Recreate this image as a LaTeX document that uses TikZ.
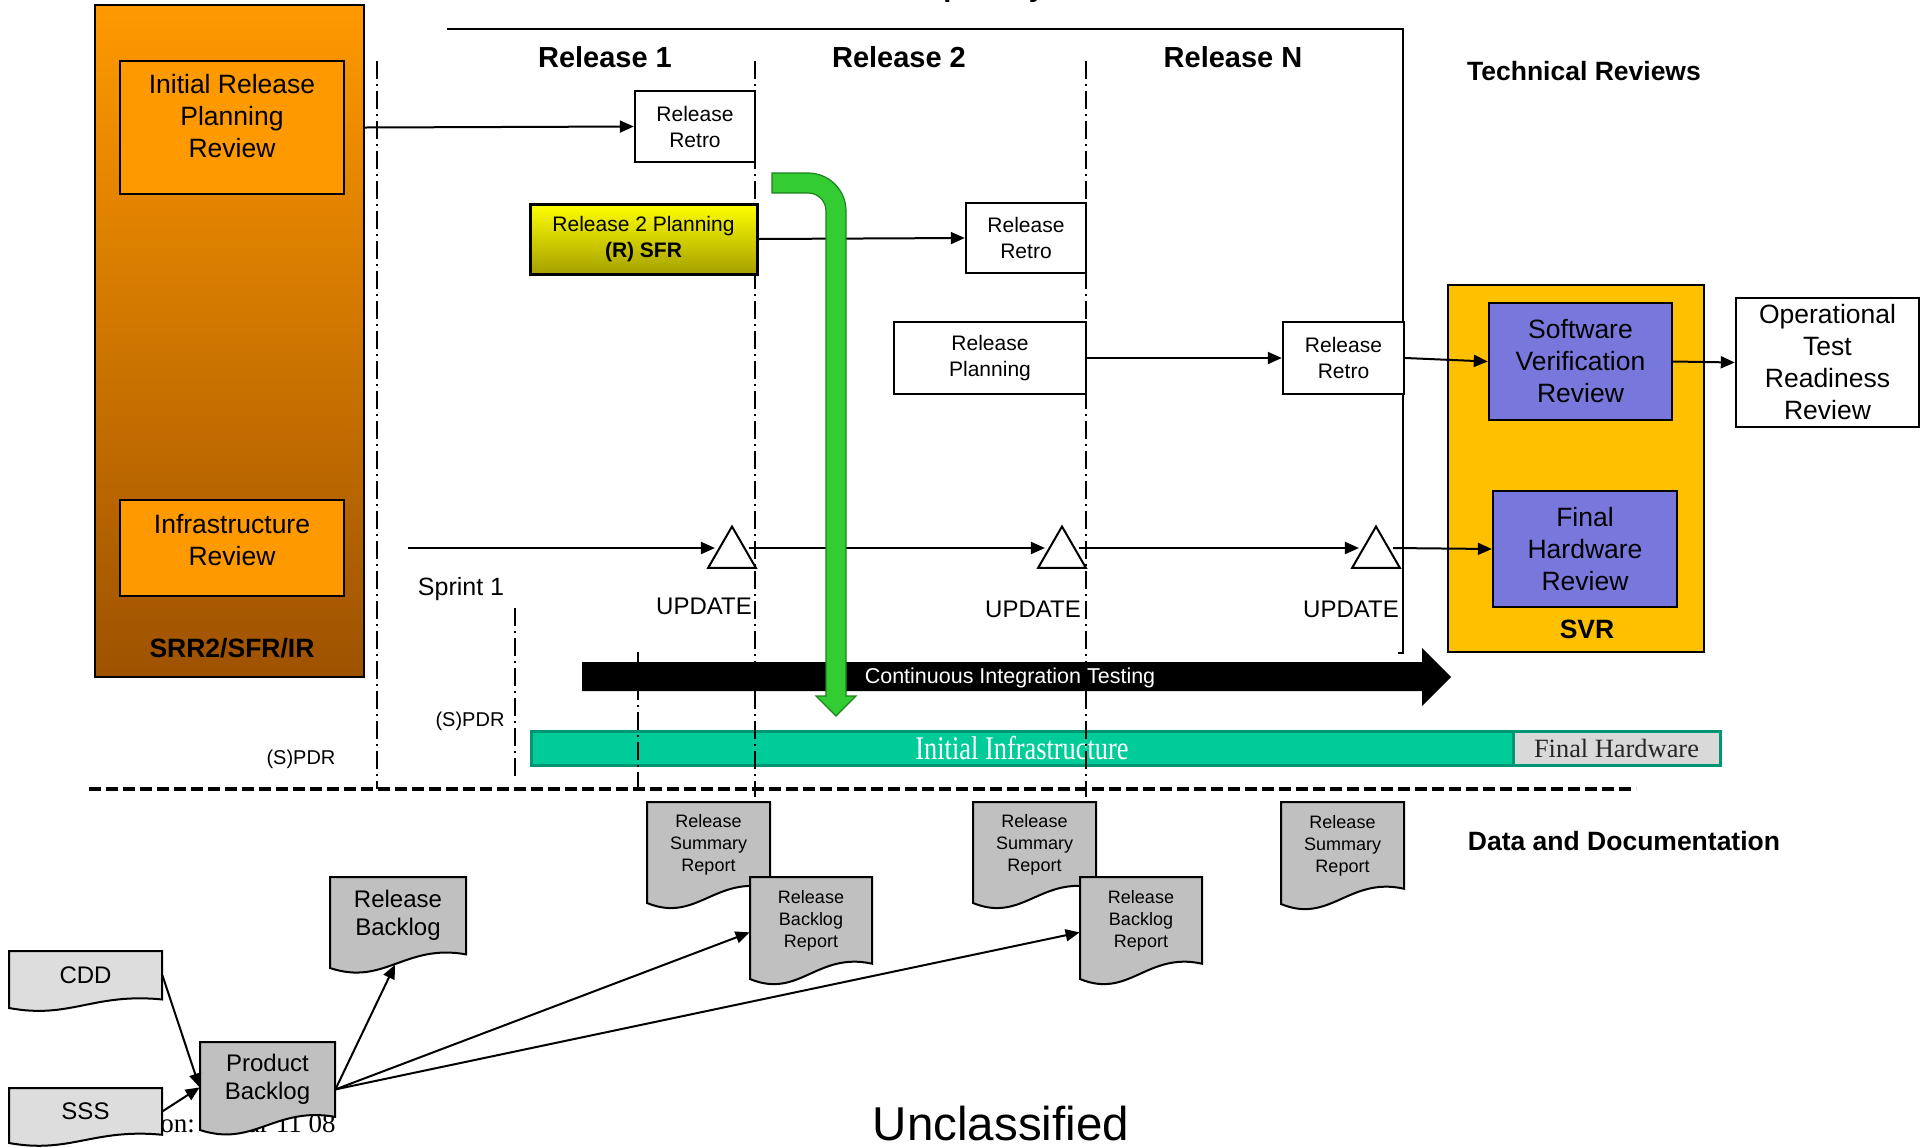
\documentclass[tikz,border=0pt]{standalone}
\usepackage{fontspec}
\setmainfont{Liberation Sans}
\newfontfamily\serifface{Liberation Serif}
\usetikzlibrary{arrows.meta,shapes.geometric,calc}

\definecolor{orangetop}{RGB}{255,153,0}
\definecolor{orangebot}{RGB}{158,82,0}
\definecolor{orangebox}{RGB}{255,153,0}
\definecolor{yellowtop}{RGB}{255,255,0}
\definecolor{yellowbot}{RGB}{165,160,0}
\definecolor{svrgold}{RGB}{255,192,0}
\definecolor{reviewblue}{RGB}{120,120,220}
\definecolor{arrowgreen}{RGB}{51,204,51}
\definecolor{arrowgreenline}{RGB}{30,130,30}
\definecolor{infrateal}{RGB}{0,204,153}
\definecolor{infraedge}{RGB}{0,150,115}
\definecolor{hwgray}{RGB}{217,217,217}
\definecolor{docgray}{RGB}{192,192,192}
\definecolor{srcgray}{RGB}{221,221,221}

\tikzset{
  % node spanning the rectangle (x0,y0)-(x1,y1), given in picture units
  area/.style n args={4}{at={({(#1+#3)/2},{(#2+#4)/2})}, anchor=center,
    minimum width={(#3-#1)*0.5pt}, minimum height={(#4-#2)*0.5pt}},
  box/.style={draw, line width=1.2pt, inner sep=0pt, align=center},
  conn/.style={line width=1pt, -{Triangle[length=7pt,width=6pt]}},
  dashdot/.style={line width=0.8pt, dash pattern=on 9pt off 2.5pt on 1pt off 2.5pt},
  sepline/.style={line width=2pt, dash pattern=on 5.75pt off 2.75pt},
  docedge/.style={draw=black, line width=1pt},
  hdr/.style={font=\fontsize{14.5}{17}\selectfont\bfseries},
  sect/.style={font=\fontsize{13.25}{16}\selectfont\bfseries},
  txtbig/.style={font=\fontsize{13.25}{16}\selectfont},
  txtsmall/.style={font=\fontsize{10.5}{13}\selectfont},
  txtdoc/.style={font=\fontsize{9}{11}\selectfont},
  txtmid/.style={font=\fontsize{12}{14}\selectfont},
  tri/.style={regular polygon, regular polygon sides=3, minimum size=27.5pt,
    draw, fill=white, line width=1pt, inner sep=0pt},
}

% document symbol with a wavy lower edge; the named node covers its upper part
% #1 name, #2 left, #3 top, #4 right, #5 lower-left corner, #6 fill, #7 style, #8 text
\newcommand\docnode[8]{%
  \filldraw[docedge, fill=#6] (#2,#3) -- (#4,#3) -- (#4,{#5-0.15*(#5-#3)})
    .. controls ({#2+0.55*(#4-#2)},{#5-0.27*(#5-#3)}) and ({#2+0.4*(#4-#2)},{#5+0.2*(#5-#3)}) .. (#2,#5) -- cycle;
  \node[inner sep=0pt, align=center, area={#2}{#3}{#4}{#5-0.15*(#5-#3)}, #7] (#1) {#8};
}

\begin{document}
\begin{tikzpicture}[x=0.5pt, y=-0.5pt]
\path[use as bounding box, fill=white] (0,0) rectangle (1929,1147);

% heading above the releases (runs off the top edge)
\node[anchor=base west, inner sep=0pt, hdr] (heading) at (906,-4) {Capability};

% frame around the releases
\draw[line width=1.2pt] (447,29) -- (1403,29) -- (1403,653) -- (1398,653);

% left review block
\node[draw, line width=1pt, inner sep=0pt, top color=orangetop, bottom color=orangebot, area={95}{5}{364}{677}] (srr) {};
\node[box, fill=orangebox, area={120}{61}{344}{194}, txtbig] (irpr)
  {\raisebox{4pt}[\height][\depth]{\begin{tabular}{@{}c@{}}Initial Release\\Planning\\Review\end{tabular}}};
\node[box, fill=orangebox, area={120}{500}{344}{596}, txtbig] (infra)
  {\raisebox{2.5pt}[\height][\depth]{\begin{tabular}{@{}c@{}}Infrastructure\\Review\end{tabular}}};
\node[sect] (srrlabel) at (232,648) {SRR2/SFR/IR};

% release headers
\node[hdr] (rel1) at (605,57) {Release 1};
\node[hdr] (rel2) at (899,57) {Release 2};
\node[hdr] (relN) at (1233,57) {Release N};
\node[sect] (techrev) at (1584,71) {Technical Reviews};

% bars along the bottom of the release area
\node[draw=infraedge, line width=1.5pt, fill=infrateal, inner sep=0pt, area={531}{731}{1513}{765}, text=white] (infrabar)
  {\scalebox{0.8}[1]{\serifface\fontsize{16.5}{18}\selectfont Initial Infrastructure}};
\node[draw=infraedge, line width=1.5pt, fill=hwgray, inner sep=0pt, area={1513}{731}{1720}{765}, text=black!85] (hwbar)
  {\serifface\fontsize{13.2}{15}\selectfont Final Hardware};

\fill[black] (582,662) -- (1422,662) -- (1422,648) -- (1451,677) -- (1422,706) -- (1422,691) -- (582,691) -- cycle;
\node[text=white, font=\fontsize{10.75}{12}\selectfont] (cit) at (1010,678) {Continuous Integration Testing};

% release boundaries
\draw[dashdot] (377,61) -- (377,789);
\draw[dashdot] (755,61) -- (755,797);
\draw[dashdot] (1086,61) -- (1086,797);
\draw[dashdot] (515,608) -- (515,780);
\draw[dashdot] (638,652) -- (638,789);

% planning and retrospective boxes
\node[box, fill=white, area={635}{91}{755}{162}, txtsmall] (rr1) {Release\\Retro};
\node[box, line width=1.5pt, top color=yellowtop, bottom color=yellowbot, area={530}{204}{757}{274}, txtsmall] (r2p) {Release 2 Planning\\\textbf{(R) SFR}};
\node[box, fill=white, area={966}{203}{1086}{273}, txtsmall] (rr2) {Release\\Retro};
\node[box, fill=white, area={894}{322}{1086}{394}, txtsmall] (rp) {Release\\Planning};
\node[box, fill=white, area={1283}{322}{1404}{394}, txtsmall] (rr3) {Release\\Retro};

% SVR block
\node[box, fill=svrgold, area={1448}{285}{1704}{652}] (svr) {};
\node[sect] (svrlabel) at (1587,629) {SVR};
\node[box, fill=reviewblue, area={1489}{303}{1672}{420}, txtbig] (svrsw) {Software\\Verification\\Review};
\node[box, fill=reviewblue, area={1493}{491}{1677}{607}, txtbig] (svrhw) {Final\\Hardware\\Review};
\node[box, fill=white, area={1736}{298}{1919}{427}, txtbig] (otrr) {Operational\\Test\\Readiness\\Review};

\draw[conn] (srr.east |- irpr.east) -- (rr1.west);
\draw[conn] (r2p.east) -- (rr2.west);
\draw[conn] (rp.east) -- (rr3.west);
\draw[conn] (rr3.east) -- (svrsw.west);
\draw[conn] (svrsw.east) -- (otrr.west);

% infrastructure update line
\coordinate (tl0) at (408,548);
\node[tri] (t1) at (732,554) {};
\node[tri] (t2) at (1062,554) {};
\node[tri] (t3) at (1376,554) {};
\draw[conn] (tl0) -- ([yshift=3pt]t1.west);
\draw[conn] ([yshift=3pt]t1.east) -- ([yshift=3pt]t2.west);
\draw[conn] ([yshift=3pt]t2.east) -- ([yshift=3pt]t3.west);
\draw[conn] ([yshift=3pt]t3.east) -- (svrhw.west);
\node[font=\fontsize{12}{14}\selectfont] (up1) at (704,606) {UPDATE};
\node[font=\fontsize{12}{14}\selectfont] (up2) at (1033,609) {UPDATE};
\node[font=\fontsize{12}{14}\selectfont] (up3) at (1351,609) {UPDATE};

\node[font=\fontsize{12.5}{14}\selectfont] (sprint) at (461,589) {Sprint 1};
\node[font=\fontsize{10}{12}\selectfont] (spdr1) at (470,721) {(S)PDR};
\node[font=\fontsize{10}{12}\selectfont] (spdr2) at (301,759) {(S)PDR};

% bent green arrow from release 2 planning down to testing
\filldraw[fill=arrowgreen, draw=arrowgreenline, line width=0.6pt]
  (772,173) -- (808,173) .. controls (829,173) and (846,190) .. (846,211)
  -- (846,696) -- (856,696) -- (836,716) -- (816,696) -- (826,696) -- (826,211)
  .. controls (826,201) and (818,193) .. (808,193) -- (772,193) -- cycle;

% separator between reviews and documentation
\draw[sepline] (89,789) -- (1636,789);

\node[sect] (datadoc) at (1624,841) {Data and Documentation};

% footer text partly covered by the documents
\node[anchor=base west, inner sep=0pt, font=\serifface\fontsize{13.5}{15}\selectfont] (footer) at (104.5,1132) {Version: 1 Mar 11 08};

% documents
\docnode{rsr1}{647}{802}{770}{903}{docgray}{txtdoc}{Release\\Summary\\Report}
\docnode{rbr1}{750}{877}{872}{979}{docgray}{txtdoc}{Release\\Backlog\\Report}
\docnode{rsr2}{973}{802}{1096}{903}{docgray}{txtdoc}{Release\\Summary\\Report}
\docnode{rbr2}{1080}{877}{1202}{979}{docgray}{txtdoc}{Release\\Backlog\\Report}
\docnode{rsr3}{1281}{802}{1404}{904}{docgray}{txtdoc}{Release\\Summary\\Report}
\docnode{rb}{330}{877}{466}{968}{docgray}{txtmid}{Release\\Backlog}
\docnode{cdd}{9}{951}{162}{1008}{srcgray}{txtmid}{CDD}
\docnode{sss}{9}{1088}{162}{1143}{srcgray}{txtmid}{SSS}
\docnode{pb}{200}{1042}{335}{1130}{docgray}{txtmid}{Product\\Backlog}

\coordinate (pbin) at ($(pb.west)+(0,8)$);
\coordinate (pbout) at ($(pb.east)+(0,10)$);
\coordinate (rbin) at ($(rb.south)+(-3,10)$);
\draw[conn] (cdd.east) -- (pbin);
\draw[conn] (sss.east) -- (pbin);
\draw[conn] (pbout) -- (rbin);
\draw[conn] (pbout) -- ($(rbr1.west)+(0,12)$);
\draw[conn] (pbout) -- ($(rbr2.west)+(0,12)$);

\node[inner sep=0pt, font=\fontsize{23.75}{28}\selectfont] (unclass) at (1001,1124) {Unclassified};
\end{tikzpicture}
\end{document}
